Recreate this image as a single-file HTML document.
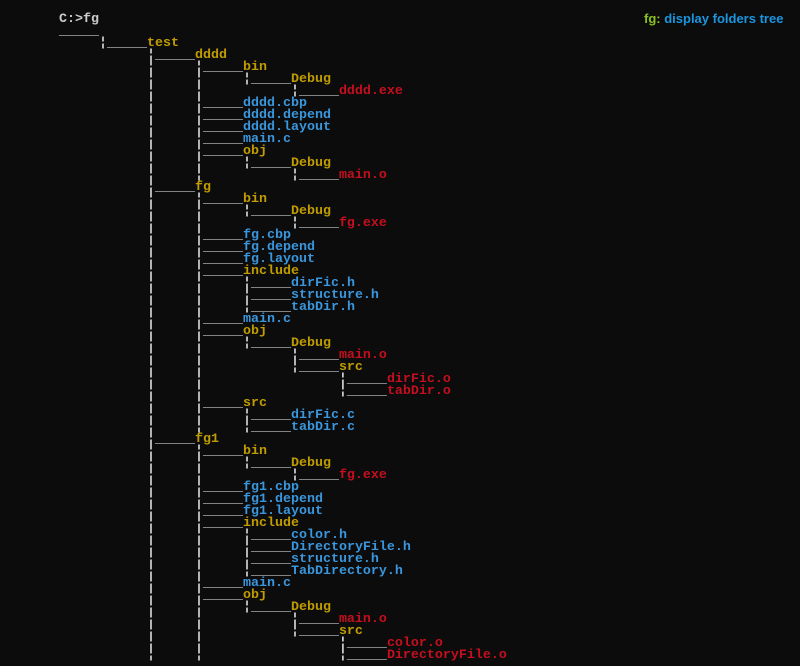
<!DOCTYPE html>
<html><head><meta charset="utf-8"><style>
html,body{margin:0;padding:0;background:#0c0c0c;width:800px;height:666px;overflow:hidden}
pre{position:absolute;left:59px;top:14px;margin:0;font-family:"Liberation Mono",monospace;font-size:13.33px;line-height:12px;font-weight:bold;color:#cccccc;letter-spacing:0}
.y{color:#c19c00}.b{color:#3a96dd}.r{color:#c50f1f}
.hd{position:absolute;left:644px;top:11px;font-family:"Liberation Sans",sans-serif;font-weight:bold;font-size:13px;color:#1a96e0;white-space:nowrap}
.hd span{color:#8cc21e}
</style></head><body>
<div class="hd"><span>fg:</span> display folders tree</div>
<pre>C:&gt;fg
_____
     ¦_____<span class="y">test</span>
           ¦_____<span class="y">dddd</span>
           ¦     ¦_____<span class="y">bin</span>
           ¦     ¦     ¦_____<span class="y">Debug</span>
           ¦     ¦           ¦_____<span class="r">dddd.exe</span>
           ¦     ¦_____<span class="b">dddd.cbp</span>
           ¦     ¦_____<span class="b">dddd.depend</span>
           ¦     ¦_____<span class="b">dddd.layout</span>
           ¦     ¦_____<span class="b">main.c</span>
           ¦     ¦_____<span class="y">obj</span>
           ¦     ¦     ¦_____<span class="y">Debug</span>
           ¦     ¦           ¦_____<span class="r">main.o</span>
           ¦_____<span class="y">fg</span>
           ¦     ¦_____<span class="y">bin</span>
           ¦     ¦     ¦_____<span class="y">Debug</span>
           ¦     ¦           ¦_____<span class="r">fg.exe</span>
           ¦     ¦_____<span class="b">fg.cbp</span>
           ¦     ¦_____<span class="b">fg.depend</span>
           ¦     ¦_____<span class="b">fg.layout</span>
           ¦     ¦_____<span class="y">include</span>
           ¦     ¦     ¦_____<span class="b">dirFic.h</span>
           ¦     ¦     ¦_____<span class="b">structure.h</span>
           ¦     ¦     ¦_____<span class="b">tabDir.h</span>
           ¦     ¦_____<span class="b">main.c</span>
           ¦     ¦_____<span class="y">obj</span>
           ¦     ¦     ¦_____<span class="y">Debug</span>
           ¦     ¦           ¦_____<span class="r">main.o</span>
           ¦     ¦           ¦_____<span class="y">src</span>
           ¦     ¦                 ¦_____<span class="r">dirFic.o</span>
           ¦     ¦                 ¦_____<span class="r">tabDir.o</span>
           ¦     ¦_____<span class="y">src</span>
           ¦     ¦     ¦_____<span class="b">dirFic.c</span>
           ¦     ¦     ¦_____<span class="b">tabDir.c</span>
           ¦_____<span class="y">fg1</span>
           ¦     ¦_____<span class="y">bin</span>
           ¦     ¦     ¦_____<span class="y">Debug</span>
           ¦     ¦           ¦_____<span class="r">fg.exe</span>
           ¦     ¦_____<span class="b">fg1.cbp</span>
           ¦     ¦_____<span class="b">fg1.depend</span>
           ¦     ¦_____<span class="b">fg1.layout</span>
           ¦     ¦_____<span class="y">include</span>
           ¦     ¦     ¦_____<span class="b">color.h</span>
           ¦     ¦     ¦_____<span class="b">DirectoryFile.h</span>
           ¦     ¦     ¦_____<span class="b">structure.h</span>
           ¦     ¦     ¦_____<span class="b">TabDirectory.h</span>
           ¦     ¦_____<span class="b">main.c</span>
           ¦     ¦_____<span class="y">obj</span>
           ¦     ¦     ¦_____<span class="y">Debug</span>
           ¦     ¦           ¦_____<span class="r">main.o</span>
           ¦     ¦           ¦_____<span class="y">src</span>
           ¦     ¦                 ¦_____<span class="r">color.o</span>
           ¦     ¦                 ¦_____<span class="r">DirectoryFile.o</span>
</pre>
</body></html>
